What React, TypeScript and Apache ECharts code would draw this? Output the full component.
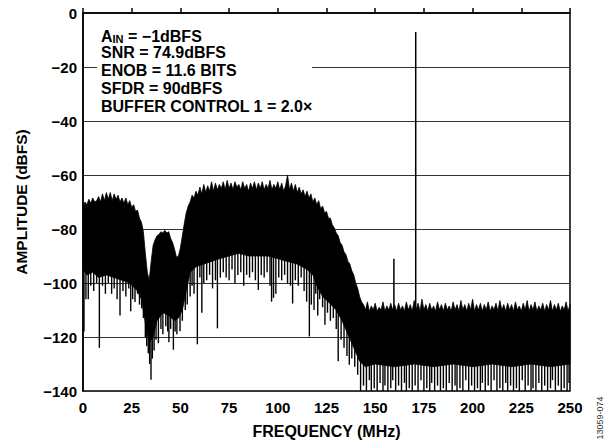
import React, { useEffect, useRef } from "react";
import * as echarts from "echarts";

// Upper edge of the noise band, one value per MHz from 0 to 250 MHz (dBFS)
const upperDb = [
  -72, -70, -71, -69, -70.5, -68.5, -70, -69.5, -68, -70,
  -67, -69.5, -66.5, -69, -66.5, -69.5, -67, -69, -67.5, -70,
  -68.5, -70.5, -68.5, -71, -69.5, -72, -71, -73.5, -73, -76,
  -77.5, -81, -89, -96, -99, -92, -86, -84, -82.5, -82,
  -81, -81.5, -80.5, -81.5, -81, -83.5, -85, -87.5, -90.5, -90,
  -87, -82.5, -78, -74, -71.5, -70, -67.5, -68.5, -66, -67.5,
  -64.5, -67, -63.5, -66.5, -64, -66, -62.5, -66, -63, -65.5,
  -63.5, -65, -62.5, -65.5, -62, -65, -63, -65.5, -62.5, -64.5,
  -63.5, -65.5, -62.5, -65, -63.5, -66, -63, -65, -62.5, -65.5,
  -63, -65, -62.5, -65.5, -63.5, -65, -62, -65.5, -63.5, -65,
  -62.5, -65.5, -63, -66, -64, -60, -65.5, -63, -66, -63.5,
  -66.5, -64.5, -67, -65.5, -68, -66, -68.5, -67, -70, -68.5,
  -71, -69.5, -72.5, -71.5, -74, -73.5, -76, -76, -78.5, -79.5,
  -81.5, -82.5, -85, -86, -88.5, -89.5, -92, -93, -95.5, -97,
  -100, -102, -105, -107, -108, -110, -107, -110.5, -108.5, -110,
  -107.5, -110.5, -109, -110, -107, -110.5, -108.5, -110, -107.5, -110,
  -108, -110.5, -107.5, -110, -108.5, -110.5, -107, -110, -108, -110.5,
  -106.5, -110, -107.5, -110.5, -106, -110, -108, -110.5, -107.5, -110,
  -108.5, -110.5, -107, -110, -108, -110.5, -107.5, -110, -108.5, -110.5,
  -107, -110, -108, -110.5, -106.5, -110, -108, -110.5, -107.5, -110,
  -106, -110.5, -108, -110, -107.5, -110.5, -108, -110, -107, -110.5,
  -108.5, -110, -107.5, -110.5, -106.5, -110, -108, -110.5, -107.5, -110,
  -108, -110.5, -107, -110, -108.5, -110.5, -107.5, -110, -106.5, -110.5,
  -108, -110, -107, -110.5, -108.5, -110, -107.5, -110.5, -108, -110,
  -106.5, -110.5, -108, -110, -107.5, -110.5, -108.5, -110, -107, -110.5,
  -108,
];
const upperStepMHz = 1;

// Lower edge of the solid part of the noise band
const lowerFreq = [0, 2, 5, 8, 12, 16, 20, 24, 28, 30, 32, 34, 36, 38, 41, 44, 47, 49, 51, 53, 55, 58, 62, 66, 70, 75, 80, 85, 90, 95, 100, 105, 110, 115, 118, 120, 123, 126, 130, 133, 136, 139, 142, 145, 150, 160, 170, 180, 190, 200, 210, 220, 230, 240, 250];
const lowerDb = [-95, -97, -96, -98, -97, -98, -99, -100, -103, -106, -115, -122, -120, -114, -111, -112, -114, -113, -110, -103, -96, -94, -93, -92, -91, -90, -89, -90, -90, -90, -91, -92, -93, -95, -97, -101, -105, -107, -110, -114, -119, -124, -129, -131, -130, -131, -130, -131, -130, -131, -130, -131, -130, -131, -130];

// Individual FFT bins reaching below the solid band: [MHz, dBFS]
const dips = [
  [0.5, -118], [1.5, -106], [2.7, -106], [4, -101], [5.5, -103], [7, -100], [8.4, -124], [10, -101], [11.5, -104], [13, -100],
  [14.7, -104], [16, -102], [17.5, -106], [19, -112], [20.5, -103], [22, -105], [23.5, -102], [24.5, -110.5], [25.5, -106], [26.7, -107],
  [28, -104], [29, -108], [30.1, -109.4], [31, -113],
  [32, -120], [32.7, -123.4], [33.5, -126], [34.2, -130], [34.9, -135.8], [35.6, -128], [36.5, -125], [37.5, -121], [38.7, -122.3], [40, -117],
  [41, -119], [42.5, -116], [43.5, -118], [44.1, -121.9], [45, -117], [46.4, -124.7], [47.3, -118], [48.2, -119], [49.8, -117.9], [51, -114],
  [52.5, -110], [53.5, -108], [55, -105],
  [56, -101], [57, -104], [58.7, -122.7], [60, -98], [61, -111], [62, -100], [63.5, -99], [65, -97], [66.5, -102], [68, -99],
  [69, -116.8], [70.5, -98], [72, -96], [73.5, -98], [75, -99], [76.5, -95], [78, -100], [79.5, -97], [81, -96], [82.5, -101],
  [84, -97], [85.5, -98], [87, -96], [88.5, -99], [90, -102.6], [91.5, -97], [93, -98], [94.5, -96], [96, -101], [96.8, -106.9],
  [97.8, -105.5], [99, -104], [100.5, -98], [102, -99], [103.5, -97], [105, -100], [106.5, -101], [107.6, -107.6], [109, -99], [110.5, -101],
  [112, -98], [113.5, -103], [114.8, -106.9], [116.2, -119.8], [117.2, -108], [118.6, -110], [119.5, -104], [120.5, -112], [121.5, -106], [123, -109],
  [124.2, -115.5], [125.5, -111], [127, -114], [128.5, -113], [130, -117], [131, -129], [132.5, -121], [134, -124], [135.5, -127], [136.7, -130.3],
  [138, -128], [139.5, -131], [141, -134],
  [142.5, -140], [144, -138], [145.5, -140], [147, -136], [148, -140], [149.5, -139], [151, -140], [152.5, -137], [154, -140], [155, -138],
  [156.5, -140], [158, -139], [159, -136], [160.5, -140], [162, -138], [163.5, -140], [165, -137], [166, -140], [167.5, -139], [169, -140],
  [170.5, -138], [172, -140], [173.5, -136], [175, -140], [176.5, -139], [178, -140], [179, -137], [180.5, -140], [182, -138], [183.5, -140],
  [185, -139], [186.5, -140], [188, -137], [189.5, -140], [191, -138], [192, -140], [193.5, -139], [195, -140], [196.5, -136], [198, -140],
  [199.5, -138], [201, -140], [202.5, -139], [204, -140], [205, -137], [206.5, -140], [208, -138], [209.5, -140], [211, -136], [212.5, -140],
  [214, -139], [215.5, -140], [217, -137], [218, -140], [219.5, -138], [221, -140], [222.5, -139], [224, -140], [225.5, -136], [227, -140],
  [228.5, -138], [230, -140], [231, -139], [232.5, -140], [234, -137], [235.5, -140], [237, -138], [238.5, -140], [240, -139], [241, -136],
  [242.5, -140], [244, -138], [245.5, -140], [247, -139], [248.5, -140], [249.5, -137],
];

// Tones: spur and fundamental [MHz, dBFS]
const tones = [[159.6, -91], [170.8, -7]];

const xTicks = { min: 0, max: 250, interval: 25 };
const yTicks = { min: -140, max: 0, interval: 20 };

const annotationLines = [
  "SNR = 74.9dBFS",
  "ENOB = 11.6 BITS",
  "SFDR = 90dBFS",
  "BUFFER CONTROL 1 = 2.0\u00d7",
];

const FONT = '"Liberation Sans", Arial, Helvetica, sans-serif';

function lowerAt(f: number): number {
  for (let i = 0; i < lowerFreq.length - 1; i++) {
    if (f >= lowerFreq[i] && f <= lowerFreq[i + 1]) {
      const t = (f - lowerFreq[i]) / (lowerFreq[i + 1] - lowerFreq[i]);
      return lowerDb[i] + t * (lowerDb[i + 1] - lowerDb[i]);
    }
  }
  return lowerDb[lowerDb.length - 1];
}

export default function App() {
  const ref = useRef<HTMLDivElement>(null);
  useEffect(() => {
    if (!ref.current) return;
    const chart = echarts.init(ref.current, null, { renderer: "svg" });
    const minus = (v: number) => (v === 0 ? "0" : v < 0 ? "\u2212" + Math.abs(v) : String(v));
    chart.setOption({
      animation: false,
      backgroundColor: "#fff",
      grid: {
        left: 83,
        right: 43,
        top: 13,
        bottom: 54,
        show: true,
        borderColor: "#000",
        borderWidth: 1.5,
        backgroundColor: "transparent",
      },
      xAxis: {
        type: "value",
        min: xTicks.min,
        max: xTicks.max,
        interval: xTicks.interval,
        name: "FREQUENCY (MHz)",
        nameLocation: "middle",
        nameGap: 32,
        nameTextStyle: { fontFamily: FONT, fontWeight: "bold", fontSize: 16, color: "#000" },
        axisLine: { show: true, lineStyle: { color: "#000", width: 1.5 } },
        axisTick: { show: true, inside: true, length: 5, lineStyle: { color: "#000", width: 1.5 } },
        axisLabel: { fontFamily: FONT, fontWeight: "bold", fontSize: 15, color: "#000", margin: 9 },
        splitLine: { show: false },
      },
      yAxis: {
        type: "value",
        min: yTicks.min,
        max: yTicks.max,
        interval: yTicks.interval,
        name: "AMPLITUDE (dBFS)",
        nameLocation: "middle",
        nameGap: 54,
        nameTextStyle: { fontFamily: FONT, fontWeight: "bold", fontSize: 15.5, color: "#000" },
        axisLine: { show: true, lineStyle: { color: "#000", width: 1.5 } },
        axisTick: { show: false },
        axisLabel: { fontFamily: FONT, fontWeight: "bold", fontSize: 15, color: "#000", margin: 6, formatter: minus },
        splitLine: { show: true, lineStyle: { color: "#333", width: 1.2 } },
      },
      graphic: [
        {
          type: "rect",
          z: 10,
          shape: { x: 97, y: 22, width: 215, height: 94 },
          style: { fill: "#fff" },
          silent: true,
        },
        {
          type: "text",
          z: 11,
          x: 101,
          y: 36.3,
          style: {
            text: "{a|A}{s|IN}{a| = \u22121dBFS}",
            verticalAlign: "middle",
            fontFamily: FONT,
            rich: {
              a: { fontFamily: FONT, fontWeight: "bold", fontSize: 16, fill: "#000", lineHeight: 16, verticalAlign: "top" },
              s: { fontFamily: FONT, fontWeight: "bold", fontSize: 11, fill: "#000", lineHeight: 12, verticalAlign: "bottom" },
            },
            lineHeight: 20,
          },
        },
        ...annotationLines.map((t, i) => ({
          type: "text",
          z: 11,
          x: 101,
          y: 52.3 + i * 18,
          style: {
            text: t,
            verticalAlign: "middle",
            fontFamily: FONT,
            fontWeight: "bold",
            fontSize: 16,
            fill: "#000",
          },
        })),
        {
          type: "text",
          z: 11,
          x: 600,
          y: 418,
          rotation: Math.PI / 2,
          style: {
            text: "13059-074",
            align: "center",
            verticalAlign: "middle",
            fontFamily: FONT,
            fontSize: 9,
            fill: "#333",
          },
        },
      ],
      series: [
        {
          type: "custom",
          coordinateSystem: "cartesian2d",
          silent: true,
          z: 3,
          data: [[0, upperDb[0]]],
          renderItem: (_params: any, api: any) => {
            const pts: number[][] = [];
            upperDb.forEach((v, i) => pts.push(api.coord([i * upperStepMHz, v])));
            for (let i = lowerFreq.length - 1; i >= 0; i--) pts.push(api.coord([lowerFreq[i], lowerDb[i]]));
            return {
              type: "polygon",
              shape: { points: pts },
              style: { fill: "#000", stroke: "#000", lineWidth: 0.8 },
            };
          },
        },
        {
          type: "custom",
          coordinateSystem: "cartesian2d",
          silent: true,
          z: 4,
          data: dips,
          renderItem: (_params: any, api: any) => {
            const f = api.value(0);
            const v = api.value(1);
            const p1 = api.coord([f, lowerAt(f) + 1]);
            const p2 = api.coord([f, v]);
            return {
              type: "line",
              shape: { x1: p1[0], y1: p1[1], x2: p2[0], y2: p2[1] },
              style: { stroke: "#000", lineWidth: 1.4 },
            };
          },
        },
        {
          type: "custom",
          coordinateSystem: "cartesian2d",
          silent: true,
          z: 5,
          data: tones,
          renderItem: (_params: any, api: any) => {
            const f = api.value(0);
            const v = api.value(1);
            const p1 = api.coord([f, -125]);
            const p2 = api.coord([f, v]);
            return {
              type: "line",
              shape: { x1: p1[0], y1: p1[1], x2: p2[0], y2: p2[1] },
              style: { stroke: "#000", lineWidth: 1.5 },
            };
          },
        },
      ],
    });
    return () => chart.dispose();
  }, []);
  return <div ref={ref} style={{ position: "absolute", left: 0, top: 0, width: 613, height: 445 }} />;
}
